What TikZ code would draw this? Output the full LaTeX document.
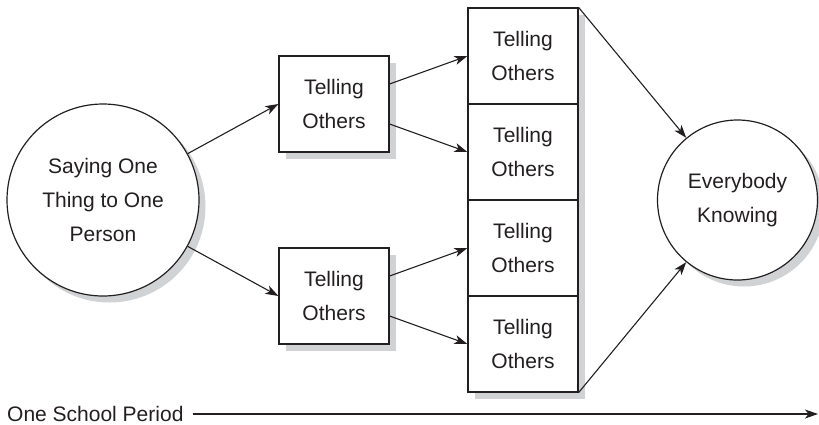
\documentclass[tikz,border=0pt]{standalone}
\usepackage{fontspec}
\setmainfont{Liberation Sans}
\usetikzlibrary{arrows.meta,shadows}
\definecolor{ink}{HTML}{231F20}
\definecolor{shade}{HTML}{D1D2D4}
\begin{document}
\begin{tikzpicture}[x=1pt,y=-1pt,
  font=\fontsize{21}{34}\selectfont, text=ink,
  myshadow/.style={general shadow={fill=shade, draw=none, shadow xshift=6.5pt, shadow yshift=-6.5pt}},
  box/.style={draw=ink, line width=1.2pt, fill=white, minimum width=110pt, minimum height=96pt, inner sep=0pt, align=center, myshadow},
  circ/.style={circle, draw=ink, line width=1.2pt, fill=white, inner sep=0pt, align=center, myshadow},
  arr/.style={draw=ink, line width=1.1pt, -{Stealth[length=13pt,width=9pt,inset=3.5pt]}}]
\useasboundingbox (0,0) rectangle (819,424);
% left circle
\node[circ, minimum size=192pt] (say) at (103,200) {Saying One\\Thing to One\\Person};
% middle boxes
\node[box] (b1) at (334,104) {Telling\\Others};
\node[box] (b2) at (334,296) {Telling\\Others};
% stack
\node[box] (s1) at (523,56) {Telling\\Others};
\node[box] (s2) at (523,152) {Telling\\Others};
\node[box] (s3) at (523,248) {Telling\\Others};
\node[box] (s4) at (523,344) {Telling\\Others};
% right circle
\node[circ, minimum size=160pt] (know) at (737.5,200) {Everybody\\Knowing};
% arrows
\draw[arr] (say) -- (b1.west);
\draw[arr] (say) -- (b2.west);
\draw[arr] ([yshift=20pt]b1.east) -- (s1.west);
\draw[arr] ([yshift=-20pt]b1.east) -- (s2.west);
\draw[arr] ([yshift=20pt]b2.east) -- (s3.west);
\draw[arr] ([yshift=-20pt]b2.east) -- (s4.west);
\draw[arr] (s1.north east) -- (know);
\draw[arr] (s4.south east) -- (know);
% time line
\node[anchor=west, inner sep=0pt] (period) at (7,414) {One School Period};
\coordinate (tend) at (818,414);
\draw[arr] ([xshift=9pt]period.east) -- (tend);
\end{tikzpicture}
\end{document}
